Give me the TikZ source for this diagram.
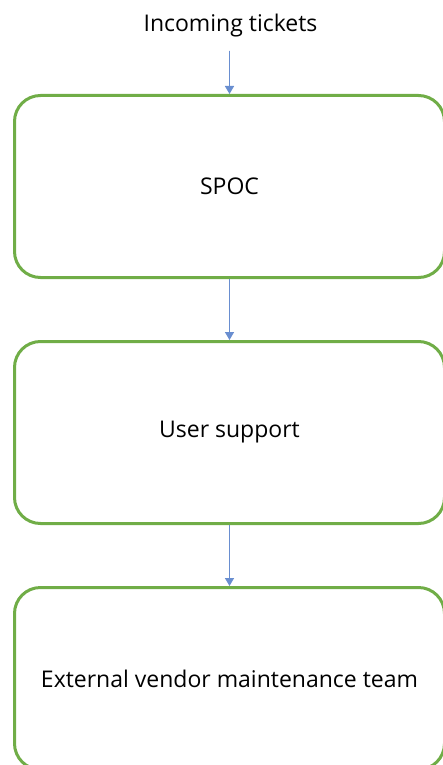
\documentclass[tikz,border=0pt]{standalone}
\usepackage{fontspec}
\setmainfont{Open Sans}
\usetikzlibrary{arrows.meta,positioning}
\definecolor{leaf}{HTML}{70AD47}
\definecolor{sky}{HTML}{4472C4}
\tikzset{
  stage/.style={draw=leaf, line width=3pt, rectangle, rounded corners=26pt,
    minimum width=430pt, minimum height=182pt, align=center, font=\fontsize{23}{28}\selectfont},
  lbl/.style={font=\fontsize{23}{28}\selectfont, inner sep=2pt},
  arr/.style={-{Triangle[length=8pt,width=9pt]}, draw=sky!80, fill=sky, line width=1.6pt}
}
\begin{document}
\begin{tikzpicture}[x=1pt,y=-1pt,node distance=61pt]
\useasboundingbox (0,0) rectangle (443,765);
\node[lbl] (in) at (230.5,26) {Incoming tickets};
\node[stage] (spoc) at (229.5,186.5) {SPOC};
\node[stage, below=of spoc] (user) {User support};
\node[stage, below=of user] (vendor) {External vendor maintenance team};
\draw[arr, shorten <=11pt] (in.south -| spoc.north) -- (spoc.north);
\foreach \s/\t in {spoc/user,user/vendor} \draw[arr] (\s) -- (\t);
\end{tikzpicture}
\end{document}
